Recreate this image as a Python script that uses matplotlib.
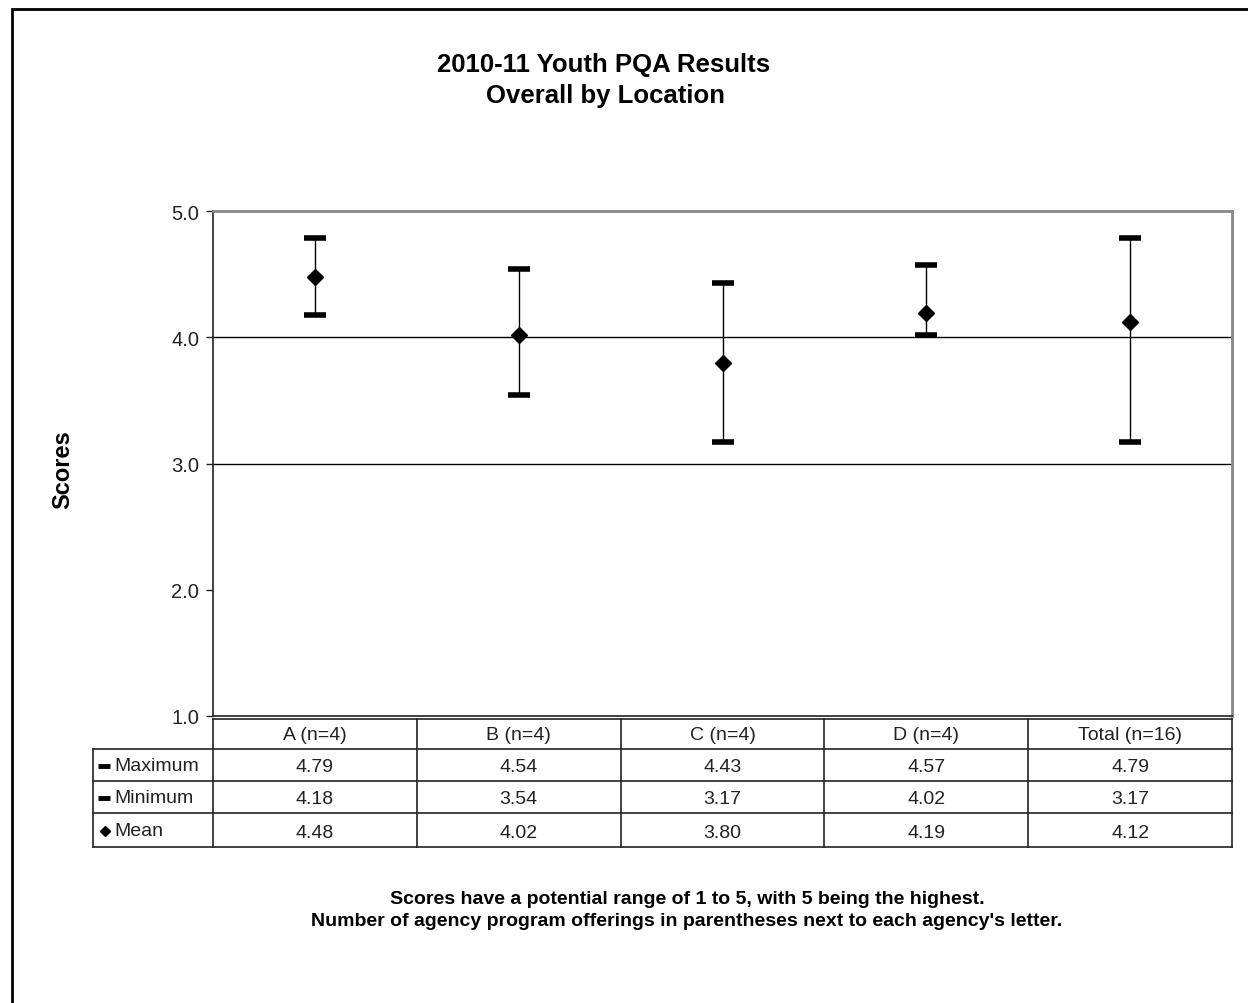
import matplotlib.pyplot as plt
from matplotlib.lines import Line2D
from matplotlib.patches import Rectangle

plt.rcParams['font.family'] = ['Liberation Sans', 'DejaVu Sans']

# data
locations = ['A (n=4)', 'B (n=4)', 'C (n=4)', 'D (n=4)', 'Total (n=16)']
maximum = [4.79, 4.54, 4.43, 4.57, 4.79]
minimum = [4.18, 3.54, 3.17, 4.02, 3.17]
mean = [4.48, 4.02, 3.80, 4.19, 4.12]
row_names = ['Maximum', 'Minimum', 'Mean']

W, H = 1248, 1004
fig = plt.figure(figsize=(W / 100, H / 100), dpi=100)


def fx(px):
    return px / W


def fy(py):
    return 1 - py / H


# outer frame (only left and top edges visible)
fig.patches.append(Rectangle((fx(12), -0.1), 1.2, fy(10) + 0.1, transform=fig.transFigure,
                             fill=False, edgecolor='black', linewidth=2))

# plot area in pixels
L, R, T, B = 213, 1232, 212, 717
ax = fig.add_axes([fx(L), fy(B), (R - L) / W, (B - T) / H])

x = list(range(len(locations)))
ax.set_xlim(-0.5, len(locations) - 0.5)
ax.set_ylim(1, 5)
ax.set_yticks([1, 2, 3, 4, 5])
ax.set_yticklabels(['1.0', '2.0', '3.0', '4.0', '5.0'], fontsize=14.5)
ax.tick_params(axis='y', direction='out', length=5, width=1, pad=5, colors='#222222')
ax.set_xticks([])

for s in ['top', 'right']:
    ax.spines[s].set_color('#888888')
    ax.spines[s].set_linewidth(2)
for s in ['left', 'bottom']:
    ax.spines[s].set_color('#222222')
    ax.spines[s].set_linewidth(1.2)

for yv in [3, 4]:
    ax.axhline(yv, color='black', linewidth=1, zorder=1)

# hi-lo lines with caps and mean markers
ax.vlines(x, minimum, maximum, color='black', linewidth=1, zorder=2)
ax.plot(x, maximum, linestyle='none', marker='_', markersize=16, markeredgewidth=4,
        color='black', zorder=3)
ax.plot(x, minimum, linestyle='none', marker='_', markersize=16, markeredgewidth=4,
        color='black', zorder=3)
ax.plot(x, mean, linestyle='none', marker='D', markersize=8.5, color='black', zorder=4)

fig.text(fx(63), fy(470), 'Scores', rotation=90, ha='center', va='center',
         fontsize=17, fontweight='bold')

# data table drawn under the plot
tl, tt, tb = 93, 720, 848
row_edges = [720, 750, 782, 814, 848]
col_w = (R - L) / len(locations)
col_edges = [L + i * col_w for i in range(len(locations) + 1)]
lc = '#222222'


def hline(y, x0, x1):
    fig.lines.append(Line2D([fx(x0), fx(x1)], [fy(y), fy(y)], transform=fig.transFigure,
                            color=lc, linewidth=1.2))


def vline(xp, y0, y1):
    fig.lines.append(Line2D([fx(xp), fx(xp)], [fy(y0), fy(y1)], transform=fig.transFigure,
                            color=lc, linewidth=1.2))


hline(row_edges[0], L, R)
for yv in row_edges[1:]:
    hline(yv, tl, R)
vline(tl, row_edges[1], tb)
for xv in col_edges:
    vline(xv, tt, tb)

for j, lab in enumerate(locations):
    fig.text(fx(L + col_w * (j + 0.5)), fy((row_edges[0] + row_edges[1]) / 2 + 1), lab,
             ha='center', va='center', fontsize=14, color=lc)

rows = [maximum, minimum, mean]
for i, vals in enumerate(rows):
    yc = (row_edges[i + 1] + row_edges[i + 2]) / 2 + 1
    fig.text(fx(114), fy(yc), row_names[i], ha='left', va='center', fontsize=14, color=lc)
    for j, v in enumerate(vals):
        fig.text(fx(L + col_w * (j + 0.5)), fy(yc + 1), '%.2f' % v, ha='center', va='center',
                 fontsize=14, color=lc)
    if i < 2:
        fig.lines.append(Line2D([fx(104)], [fy(yc)], transform=fig.transFigure, marker='_',
                                markersize=9, markeredgewidth=3.5, color='black'))
    else:
        fig.lines.append(Line2D([fx(105)], [fy(yc)], transform=fig.transFigure, marker='D',
                                markersize=5, color='black'))

fig.text(fx(604), fy(65), '2010-11 Youth PQA Results', ha='center', va='center',
         fontsize=18.5, fontweight='bold')
fig.text(fx(605), fy(96), 'Overall by Location', ha='center', va='center',
         fontsize=18.5, fontweight='bold')

fig.text(fx(687), fy(900), 'Scores have a potential range of 1 to 5, with 5 being the highest.',
         ha='center', va='center', fontsize=14, fontweight='bold')
fig.text(fx(687), fy(922),
         "Number of agency program offerings in parentheses next to each agency's letter.",
         ha='center', va='center', fontsize=14, fontweight='bold')

fig.savefig('out.png', dpi=100)
